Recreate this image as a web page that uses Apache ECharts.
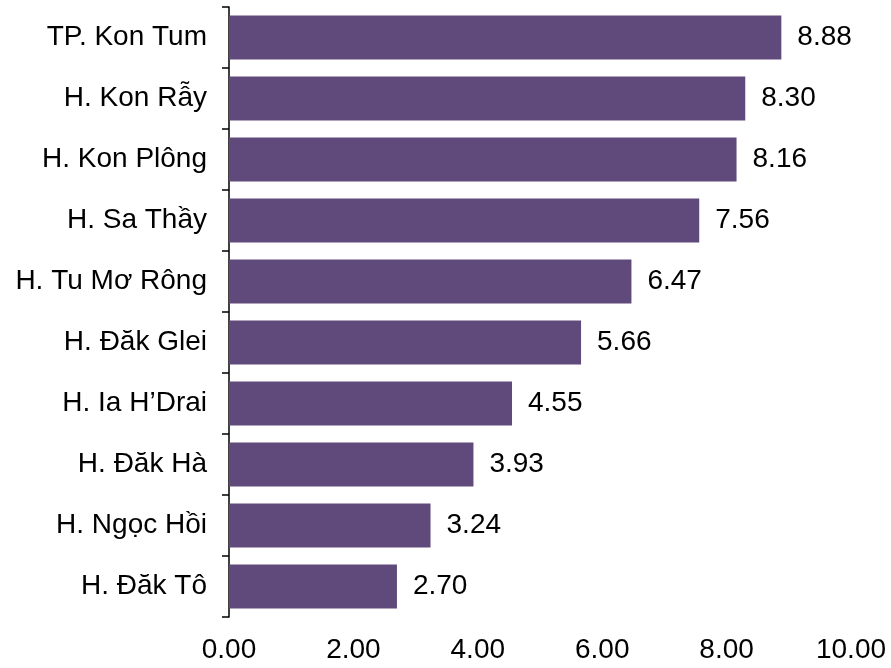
<!DOCTYPE html>
<html><head><meta charset="utf-8">
<script src="https://cdn.jsdelivr.net/npm/echarts@6/dist/echarts.min.js"></script>
<style>html,body{margin:0;padding:0;background:#fff}#c{width:891px;height:668px}</style>
</head><body><div id="c"></div>
<script>
var categories = ["TP. Kon Tum","H. Kon Rẫy","H. Kon Plông","H. Sa Thầy","H. Tu Mơ Rông","H. Đăk Glei","H. Ia H’Drai","H. Đăk Hà","H. Ngọc Hồi","H. Đăk Tô"];
var values = [8.88,8.30,8.16,7.56,6.47,5.66,4.55,3.93,3.24,2.70];
var chart = echarts.init(document.getElementById('c'));
chart.setOption({
  animation:false,
  grid:{left:229,right:40,top:7,bottom:51},
  xAxis:{type:'value',min:0,max:10,interval:2,
    axisLine:{show:false},axisTick:{show:false},splitLine:{show:false},
    axisLabel:{formatter:function(v){return v.toFixed(2);},fontFamily:'Liberation Sans, Arial',fontSize:28,color:'#000',margin:19}},
  yAxis:{type:'category',data:categories,inverse:true,
    axisLine:{lineStyle:{color:'#000',width:1.5}},
    axisTick:{show:true,length:7,lineStyle:{color:'#000',width:1.5}},
    axisLabel:{fontFamily:'Liberation Sans, Arial',fontSize:28,color:'#000',margin:22}},
  series:[{type:'bar',data:values,barWidth:'72%',itemStyle:{color:'#604A7B'},
    label:{show:true,position:'right',distance:16,formatter:function(p){return p.value.toFixed(2);},fontFamily:'Liberation Sans, Arial',fontSize:28,color:'#000'}}]
});
</script></body></html>
